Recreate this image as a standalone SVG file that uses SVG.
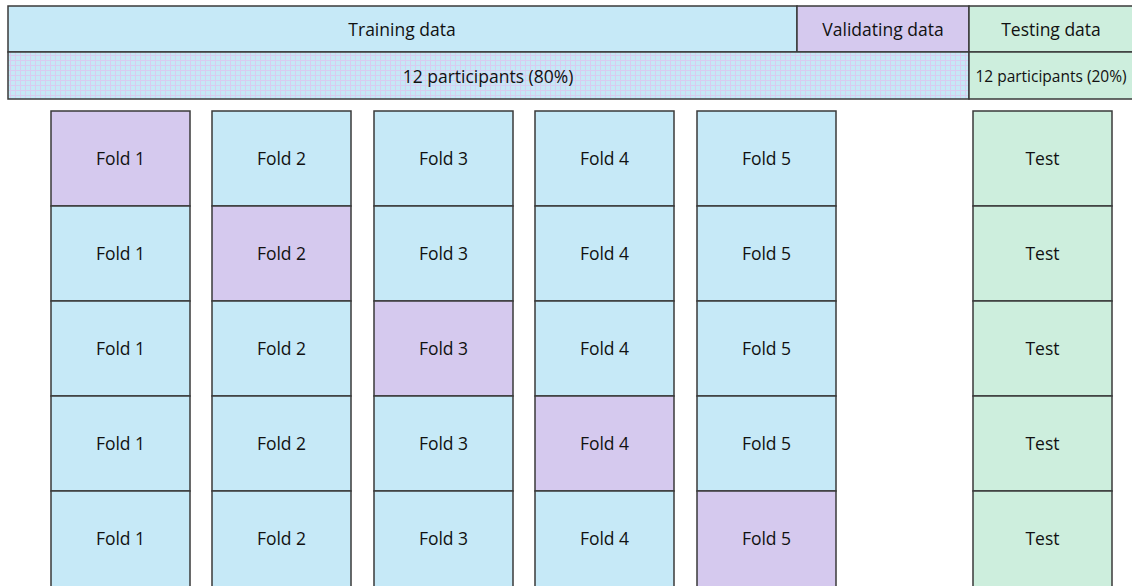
<svg xmlns="http://www.w3.org/2000/svg" width="1132" height="586" viewBox="0 0 1132 586">
<defs>
<pattern id="grid" width="5" height="5" patternUnits="userSpaceOnUse">
<rect width="5" height="5" fill="#d8ccef"/>
<rect x="1" y="1" width="4" height="4" fill="#c6e8f6"/>
</pattern>
<style>
.b{fill:#c6e9f7;stroke:#3a3a3a;stroke-width:1.5}
.p{fill:#d5c9ee;stroke:#3a3a3a;stroke-width:1.5}
.g{fill:#cdeedd;stroke:#3a3a3a;stroke-width:1.5}
.t{font-family:"Open Sans","Liberation Sans",sans-serif;font-size:17.5px;fill:#111;text-anchor:middle;dominant-baseline:central}
.s{font-size:15.5px}
</style>
</defs>
<rect width="1132" height="586" fill="#fff"/>
<g id="header">
<rect class="b" x="8" y="6" width="789" height="46"/>
<rect class="p" x="797" y="6" width="172" height="46"/>
<rect class="g" x="969" y="6" width="165" height="46"/>
<rect x="8" y="52" width="961" height="47" fill="url(#grid)" stroke="#3a3a3a" stroke-width="1.5"/>
<rect class="g" x="969" y="52" width="165" height="47"/>
<text class="t" x="402" y="29">Training data</text>
<text class="t" x="883" y="29">Validating data</text>
<text class="t" x="1051" y="29">Testing data</text>
<text class="t" x="488" y="76">12 participants (80%)</text>
<text class="t s" x="1051" y="76">12 participants (20%)</text>
</g>
<g id="col1">
<rect class="p" x="51" y="111" width="139" height="95"/><text class="t" x="120.5" y="158">Fold 1</text>
<rect class="b" x="51" y="206" width="139" height="95"/><text class="t" x="120.5" y="253">Fold 1</text>
<rect class="b" x="51" y="301" width="139" height="95"/><text class="t" x="120.5" y="348">Fold 1</text>
<rect class="b" x="51" y="396" width="139" height="95"/><text class="t" x="120.5" y="443">Fold 1</text>
<rect class="b" x="51" y="491" width="139" height="100"/><text class="t" x="120.5" y="538">Fold 1</text>
</g>
<g id="col2">
<rect class="b" x="212" y="111" width="139" height="95"/><text class="t" x="281.5" y="158">Fold 2</text>
<rect class="p" x="212" y="206" width="139" height="95"/><text class="t" x="281.5" y="253">Fold 2</text>
<rect class="b" x="212" y="301" width="139" height="95"/><text class="t" x="281.5" y="348">Fold 2</text>
<rect class="b" x="212" y="396" width="139" height="95"/><text class="t" x="281.5" y="443">Fold 2</text>
<rect class="b" x="212" y="491" width="139" height="100"/><text class="t" x="281.5" y="538">Fold 2</text>
</g>
<g id="col3">
<rect class="b" x="374" y="111" width="139" height="95"/><text class="t" x="443.5" y="158">Fold 3</text>
<rect class="b" x="374" y="206" width="139" height="95"/><text class="t" x="443.5" y="253">Fold 3</text>
<rect class="p" x="374" y="301" width="139" height="95"/><text class="t" x="443.5" y="348">Fold 3</text>
<rect class="b" x="374" y="396" width="139" height="95"/><text class="t" x="443.5" y="443">Fold 3</text>
<rect class="b" x="374" y="491" width="139" height="100"/><text class="t" x="443.5" y="538">Fold 3</text>
</g>
<g id="col4">
<rect class="b" x="535" y="111" width="139" height="95"/><text class="t" x="604.5" y="158">Fold 4</text>
<rect class="b" x="535" y="206" width="139" height="95"/><text class="t" x="604.5" y="253">Fold 4</text>
<rect class="b" x="535" y="301" width="139" height="95"/><text class="t" x="604.5" y="348">Fold 4</text>
<rect class="p" x="535" y="396" width="139" height="95"/><text class="t" x="604.5" y="443">Fold 4</text>
<rect class="b" x="535" y="491" width="139" height="100"/><text class="t" x="604.5" y="538">Fold 4</text>
</g>
<g id="col5">
<rect class="b" x="697" y="111" width="139" height="95"/><text class="t" x="766.5" y="158">Fold 5</text>
<rect class="b" x="697" y="206" width="139" height="95"/><text class="t" x="766.5" y="253">Fold 5</text>
<rect class="b" x="697" y="301" width="139" height="95"/><text class="t" x="766.5" y="348">Fold 5</text>
<rect class="b" x="697" y="396" width="139" height="95"/><text class="t" x="766.5" y="443">Fold 5</text>
<rect class="p" x="697" y="491" width="139" height="100"/><text class="t" x="766.5" y="538">Fold 5</text>
</g>
<g id="test">
<rect class="g" x="973" y="111" width="139" height="95"/><text class="t" x="1042.5" y="158">Test</text>
<rect class="g" x="973" y="206" width="139" height="95"/><text class="t" x="1042.5" y="253">Test</text>
<rect class="g" x="973" y="301" width="139" height="95"/><text class="t" x="1042.5" y="348">Test</text>
<rect class="g" x="973" y="396" width="139" height="95"/><text class="t" x="1042.5" y="443">Test</text>
<rect class="g" x="973" y="491" width="139" height="100"/><text class="t" x="1042.5" y="538">Test</text>
</g>
<g id="connectors"></g>
</svg>
